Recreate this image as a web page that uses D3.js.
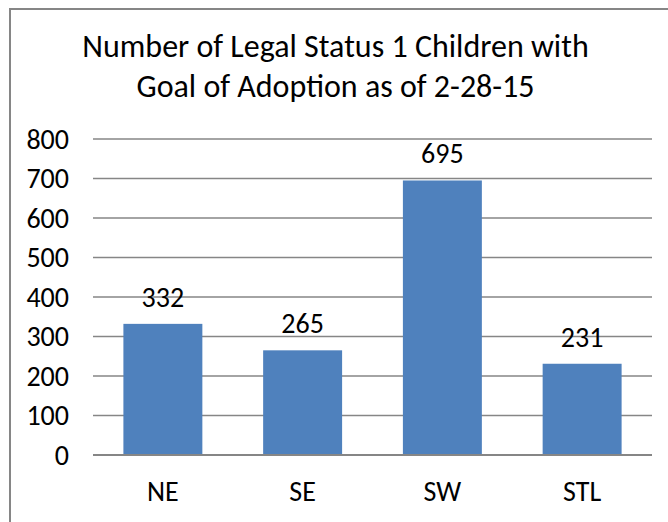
<!DOCTYPE html>
<html>
<head>
<meta charset="utf-8">
<script src="https://cdn.jsdelivr.net/npm/d3@7"></script>
<style>
  html, body { margin: 0; padding: 0; background: #fff; }
  svg text { font-family: Carlito, Calibri, Lato, "Liberation Sans", Arial, sans-serif; fill: #000; }
</style>
</head>
<body>
<div id="chart"></div>
<script>
const regions = ["NE", "SE", "SW", "STL"];
const children = [332, 265, 695, 231];
const yTicks = [0, 100, 200, 300, 400, 500, 600, 700, 800];
const titleLines = ["Number of Legal Status 1 Children with", "Goal of Adoption as of 2-28-15"];

const width = 668;
const height = 522;
const margin = { top: 139, right: 16, bottom: 67, left: 93 };

const svg = d3.select("#chart")
  .append("svg")
  .attr("width", width)
  .attr("height", height);

// chart frame (runs off the right and bottom edge in the original)
svg.append("rect")
  .attr("x", 10)
  .attr("y", 9)
  .attr("width", 720)
  .attr("height", 600)
  .attr("fill", "none")
  .attr("stroke", "#868686")
  .attr("stroke-width", 2);

svg.selectAll(".title")
  .data(titleLines)
  .join("text")
  .attr("class", "title")
  .attr("x", 335.5)
  .attr("y", (d, i) => 57 + i * 40)
  .attr("text-anchor", "middle")
  .style("font-size", "32px")
  .text(d => d);

const x = d3.scaleBand()
  .domain(regions)
  .range([margin.left, width - margin.right])
  .paddingInner(0.435)
  .paddingOuter(0.2175);

const y = d3.scaleLinear()
  .domain([0, 800])
  .range([height - margin.bottom, margin.top]);

// gridlines
svg.append("g")
  .selectAll("line")
  .data(yTicks)
  .join("line")
  .attr("x1", margin.left)
  .attr("x2", width - margin.right)
  .attr("y1", d => y(d))
  .attr("y2", d => y(d))
  .attr("stroke", "#868686")
  .attr("stroke-width", 1.5);

svg.append("g")
  .selectAll("text")
  .data(yTicks)
  .join("text")
  .attr("x", 69)
  .attr("y", d => y(d))
  .attr("dy", "0.34em")
  .attr("text-anchor", "end")
  .style("font-size", "28px")
  .text(d => d);

svg.append("g")
  .selectAll("rect")
  .data(regions)
  .join("rect")
  .attr("x", d => x(d))
  .attr("width", x.bandwidth())
  .attr("y", (d, i) => y(children[i]))
  .attr("height", (d, i) => y(0) - y(children[i]))
  .attr("fill", "#4F81BD");

// baseline axis over the bars
svg.append("line")
  .attr("x1", margin.left)
  .attr("x2", width - margin.right)
  .attr("y1", y(0))
  .attr("y2", y(0))
  .attr("stroke", "#868686")
  .attr("stroke-width", 2);

svg.append("g")
  .selectAll("text")
  .data(regions)
  .join("text")
  .attr("x", (d, i) => x(d) + x.bandwidth() / 2)
  .attr("y", (d, i) => y(children[i]) - 17)
  .attr("text-anchor", "middle")
  .style("font-size", "28px")
  .text((d, i) => children[i]);

svg.append("g")
  .selectAll("text")
  .data(regions)
  .join("text")
  .attr("x", d => x(d) + x.bandwidth() / 2)
  .attr("y", 501)
  .attr("text-anchor", "middle")
  .style("font-size", "28px")
  .text(d => d);
</script>
</body>
</html>
